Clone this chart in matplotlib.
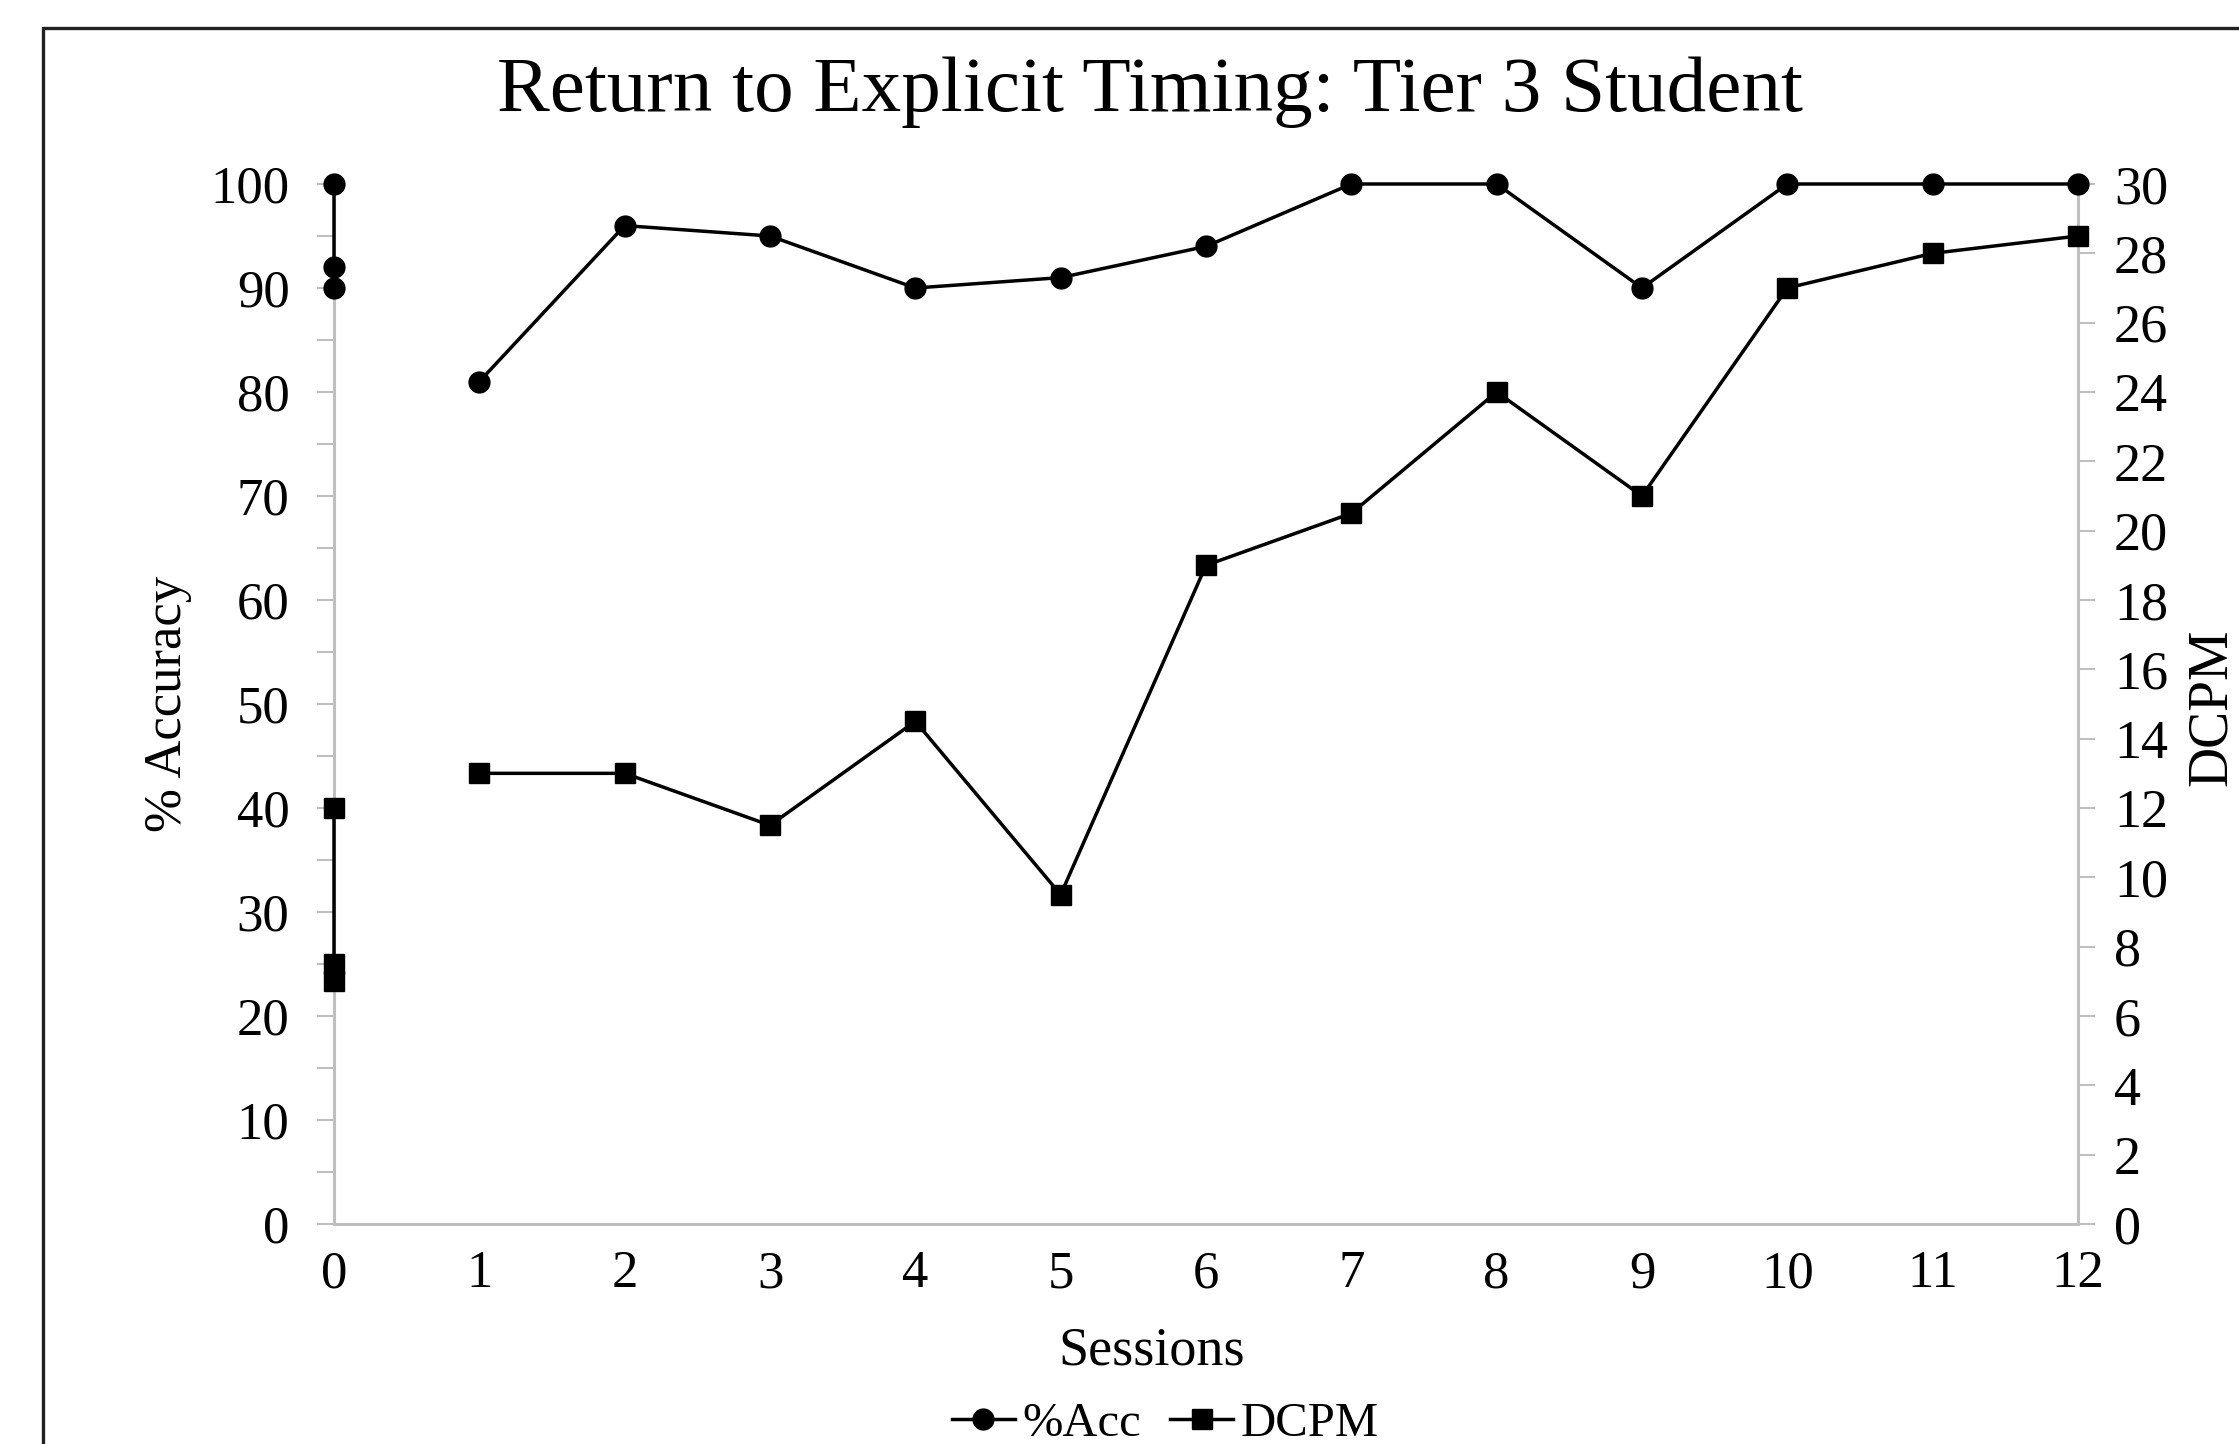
import numpy as np
import matplotlib
matplotlib.use("Agg")
import matplotlib.pyplot as plt
from matplotlib.patches import Rectangle
from matplotlib.ticker import MultipleLocator

# ---- data ----
sessions = [0, 0, 0, np.nan, 1, 2, 3, 4, 5, 6, 7, 8, 9, 10, 11, 12]
acc = [100, 92, 90, np.nan, 81, 96, 95, 90, 91, 94, 100, 100, 90, 100, 100, 100]
dcpm = [12, 7.5, 7, np.nan, 13, 13, 11.5, 14.5, 9.5, 19, 20.5, 24, 21, 27, 28, 28.5]
x_ticks = list(range(0, 13))
title = "Return to Explicit Timing: Tier 3 Student"

plt.rcParams['font.family'] = ['Liberation Serif', 'DejaVu Serif']

W, H = 2239, 1444
fig = plt.figure(figsize=(W / 100, H / 100), dpi=100)

left, right_px, top_px, bottom_px = 334, 2078, 184, 1224
ax = fig.add_axes([left / W, 1 - bottom_px / H, (right_px - left) / W, (bottom_px - top_px) / H])
ax2 = ax.twinx()

grey = '#BFBFBF'
for a in (ax, ax2):
    for s in a.spines.values():
        s.set_visible(False)
ax.spines['left'].set_visible(True)
ax.spines['bottom'].set_visible(True)
ax2.spines['right'].set_visible(True)
for s in (ax.spines['left'], ax.spines['bottom'], ax2.spines['right']):
    s.set_color(grey)
    s.set_linewidth(2.2)

ax.set_xlim(0, 12)
ax.set_ylim(0, 100)
ax2.set_ylim(0, 30)

fs = 38
ax.set_xticks(x_ticks)
ax.tick_params(axis='x', length=0, labelsize=fs, pad=19)
ax.yaxis.set_major_locator(MultipleLocator(10))
ax.yaxis.set_minor_locator(MultipleLocator(5))
ax.tick_params(axis='y', which='both', length=12, width=1.5, color=grey, labelsize=fs, pad=20, direction='out')
ax2.yaxis.set_major_locator(MultipleLocator(2))
ax2.tick_params(axis='y', which='both', length=12, width=1.5, color=grey, labelsize=39, pad=14, direction='out')

l1, = ax2.plot(sessions, [v * 0.3 if not np.isnan(v) else np.nan for v in acc],
               color='black', lw=2.5, marker='o', ms=15, clip_on=False, zorder=5, label='%Acc')
l2, = ax2.plot(sessions, dcpm, color='black', lw=2.5, marker='s', ms=15, clip_on=False, zorder=5, label='DCPM')

ax.set_xlabel('Sessions', fontsize=39, va='center')
ax.xaxis.set_label_coords((1152 - left) / (right_px - left), -(1351 - bottom_px) / (bottom_px - top_px))
ax.set_ylabel('% Accuracy', fontsize=38, va='center')
ax.yaxis.set_label_coords((168 - left) / (right_px - left), 0.5)

fig.text(1150 / W, 1 - 92 / H, title, fontsize=57, ha='center', va='center')
fig.text(2238 / W, 1 - 707 / H, 'DCPM', fontsize=40, rotation=90, ha='right', va='center')

fig.legend(handles=[l1, l2], loc='center', bbox_to_anchor=(1165 / W, 1 - 1424 / H),
           ncol=2, frameon=False, fontsize=35, handlelength=1.3, columnspacing=0.6,
           handletextpad=0.15, borderaxespad=0)

fig.patches.append(Rectangle((43 / W, -0.1), 1.2, 1 - 28 / H + 0.1, transform=fig.transFigure,
                             fill=False, edgecolor='#222222', linewidth=2.4))

fig.savefig('out.png', dpi=100)
